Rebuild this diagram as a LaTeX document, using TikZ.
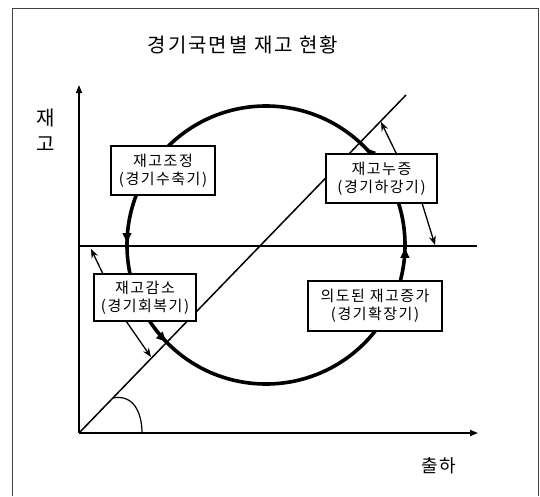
\documentclass[tikz,border=0pt]{standalone}
\usepackage{fontspec}
\newfontfamily\kr[LetterSpace=10]{Noto Sans CJK KR}
\usetikzlibrary{arrows.meta,decorations.markings}
\tikzset{
  frameline/.style={line width=1pt, draw=black!75},
  axisline/.style={line width=1.6pt, -{Triangle[length=8pt,width=6pt]}},
  thinline/.style={line width=1.5pt},
  cycleline/.style={line width=3.6pt,
    decoration={markings,
      mark=at position 0.001 with {\arrowreversed{Latex[length=12pt,width=10pt]}},
      mark=at position 0.375 with {\arrowreversed{Latex[length=12pt,width=10pt]}},
      mark=at position 0.5 with {\arrowreversed{Latex[length=12pt,width=10pt]}},
      mark=at position 0.875 with {\arrowreversed{Latex[length=12pt,width=10pt]}}},
    postaction={decorate}},
  phasebox/.style={draw, fill=white, line width=1.3pt, align=center, inner sep=0pt,
    font=\kr\fontsize{15}{18}\selectfont},
  pointer/.style={line width=1.3pt, -{Stealth[length=9pt,width=7pt,inset=3pt]}},
  lbl/.style={inner sep=0pt, font=\kr\fontsize{20}{22}\selectfont}
}
\begin{document}
\begin{tikzpicture}[x=1pt,y=-1pt]
\useasboundingbox (0,0) rectangle (540,496);
% frame
\coordinate (f1) at (12,496);
\coordinate (f2) at (12,8);
\coordinate (f3) at (538,8);
\coordinate (f4) at (538,496);
\draw[frameline] (f1) -- (f2) -- (f3) -- (f4);
% title and axis labels
\node[lbl] (title) at (243,45) {경기국면별 재고 현황};
\node[lbl] (ylab1) at (46,118) {재};
\node[lbl] (ylab2) at (46,144) {고};
\node[lbl, font=\kr\fontsize{18}{22}\selectfont] (xlab) at (439,466) {출하};
% axes
\coordinate (O) at (79,433);
\coordinate (Ytop) at (79,85);
\coordinate (Xend) at (478,433);
\draw[axisline] (O) -- (Ytop);
\draw[axisline] (O) -- (Xend);
% horizontal reference line
\coordinate (H1) at (79,246);
\coordinate (H2) at (477,246);
\draw[thinline] (H1) -- (H2);
% diagonal
\coordinate (D) at (406,95);
\draw[thinline] (O) -- (D);
% angle mark
\coordinate (g1) at (113,398);
\coordinate (g2) at (142,433);
\draw[line width=1.2pt] (g1) .. controls (133,394) and (142,412) .. (g2);
% cycle circle
\coordinate (C) at (266,245);
\draw[cycleline] (C) circle[radius=139];
% boxes
\node[phasebox, minimum width=104pt, minimum height=49pt] (b1) at (163,170.5) {재고조정\\(경기수축기)};
\node[phasebox, minimum width=111pt, minimum height=49pt] (b2) at (381.5,178.5) {재고누증\\(경기하강기)};
\node[phasebox, minimum width=102pt, minimum height=47pt] (b3) at (145,297.5) {재고감소\\(경기회복기)};
\node[phasebox, minimum width=134pt, minimum height=50pt] (b4) at (375,306) {의도된 재고증가\\(경기확장기)};
% pointers
\coordinate (a1s) at (103,274);
\coordinate (a1e) at (91,249);
\coordinate (a2s) at (126,321);
\coordinate (a2e) at (151,357);
\coordinate (a3s) at (397,155);
\coordinate (a3e) at (381,122);
\coordinate (a4s) at (422,203);
\coordinate (a4e) at (435,245);
\draw[pointer] (a1s) -- (a1e);
\draw[pointer] (a2s) -- (a2e);
\draw[pointer] (a3s) -- (a3e);
\draw[pointer] (a4s) -- (a4e);
\end{tikzpicture}
\end{document}
